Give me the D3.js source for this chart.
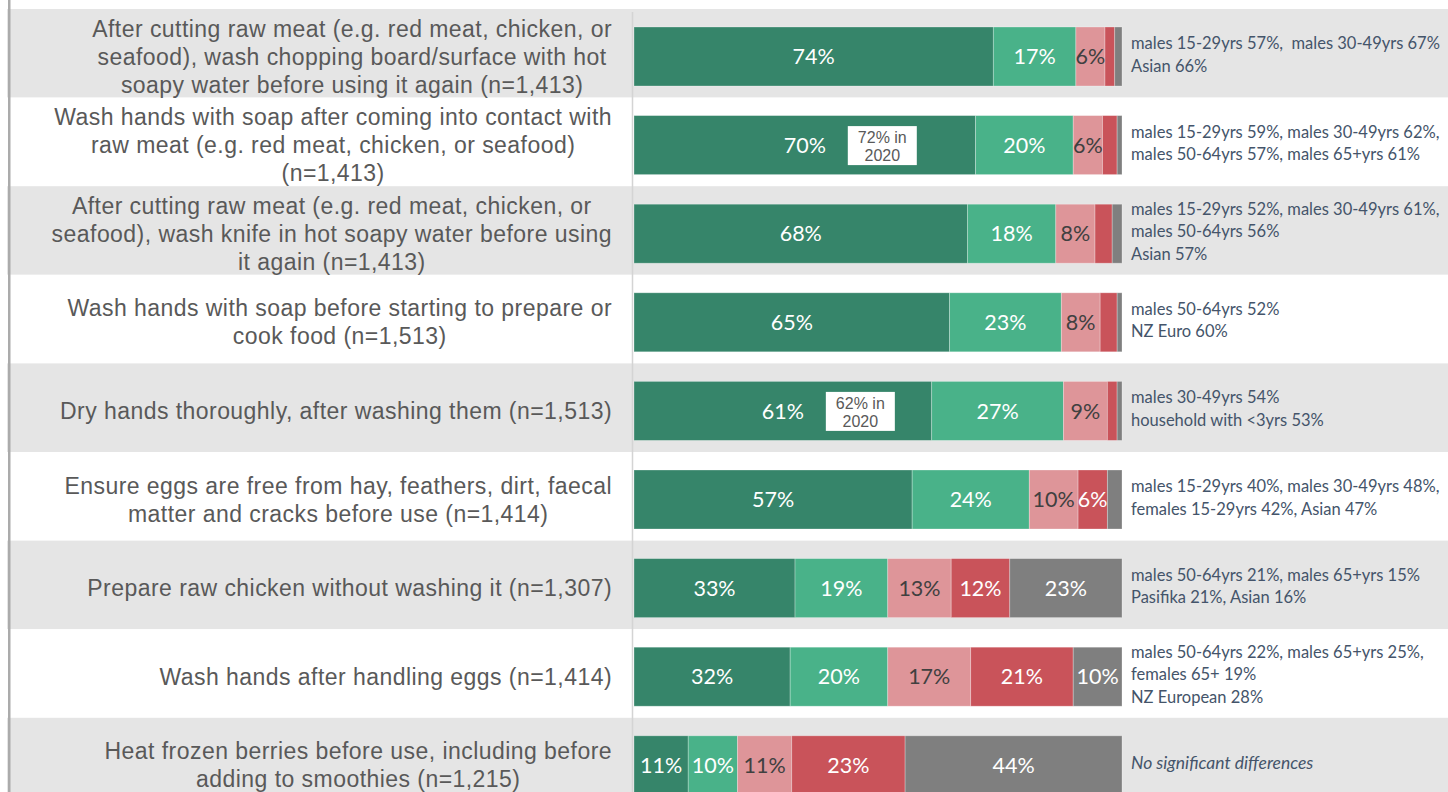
<!DOCTYPE html>
<html>
<head>
<meta charset="utf-8">
<script src="https://cdn.jsdelivr.net/npm/d3@7"></script>
<style>
  html, body { margin: 0; padding: 0; background: #ffffff; }
  svg { display: block; }
  text { white-space: pre; }
</style>
</head>
<body>
<svg id="chart" width="1448" height="792"></svg>
<script>
// Food-handling behaviours, one entry per row (lines as they wrap on the left)
const categories = [
  ["After cutting raw meat (e.g. red meat, chicken, or", "seafood), wash chopping board/surface with hot", "soapy water before using it again (n=1,413)"],
  ["Wash hands with soap after coming into contact with", "raw meat (e.g. red meat, chicken, or seafood)", "(n=1,413)"],
  ["After cutting raw meat (e.g. red meat, chicken, or", "seafood), wash knife in hot soapy water before using", "it again (n=1,413)"],
  ["Wash hands with soap before starting to prepare or", "cook food (n=1,513)"],
  ["Dry hands thoroughly, after washing them (n=1,513)"],
  ["Ensure eggs are free from hay, feathers, dirt, faecal", "matter and cracks before use (n=1,414)"],
  ["Prepare raw chicken without washing it (n=1,307)"],
  ["Wash hands after handling eggs (n=1,414)"],
  ["Heat frozen berries before use, including before", "adding to smoothies (n=1,215)"]
];

// Response shares (%) per row
const always    = [74, 70, 68, 65, 61, 57, 33, 32, 11];
const usually   = [17, 20, 18, 23, 27, 24, 19, 20, 10];
const sometimes = [6, 6, 8, 8, 9, 10, 13, 17, 11];
const rarely    = [2, 3, 3.5, 3.5, 2, 6, 12, 21, 23];
const never     = [1.5, 1, 2, 1, 1, 3, 23, 10, 44];

const seriesKeys = ["always", "usually", "sometimes", "rarely", "never"];
const seriesColors = ["#36856a", "#49b289", "#de9599", "#c9535a", "#7f7f7f"];
const labelColors  = ["#ffffff", "#ffffff", "#404040", "#ffffff", "#ffffff"];

// Earlier-year comparison notes on the first segment
const priorRows  = [1, 4];
const priorTexts = [["72% in", "2020"], ["62% in", "2020"]];

// Subgroup differences listed to the right of each bar
const notes = [
  ["males 15-29yrs 57%,  males 30-49yrs 67%", "Asian 66%"],
  ["males 15-29yrs 59%, males 30-49yrs 62%,", "males 50-64yrs 57%, males 65+yrs 61%"],
  ["males 15-29yrs 52%, males 30-49yrs 61%,", "males 50-64yrs 56%", "Asian 57%"],
  ["males 50-64yrs 52%", "NZ Euro 60%"],
  ["males 30-49yrs 54%", "household with <3yrs 53%"],
  ["males 15-29yrs 40%, males 30-49yrs 48%,", "females 15-29yrs 42%, Asian 47%"],
  ["males 50-64yrs 21%, males 65+yrs 15%", "Pasifika 21%, Asian 16%"],
  ["males 50-64yrs 22%, males 65+yrs 25%,", "females 65+ 19%", "NZ European 28%"],
  ["No significant differences"]
];
const noteItalic = [false, false, false, false, false, false, false, false, true];

const rows = categories.map((c, i) => ({
  idx: i, always: always[i], usually: usually[i], sometimes: sometimes[i],
  rarely: rarely[i], never: never[i]
}));

const svg = d3.select("#chart");
const W = 1448, H = 792;

const rowScale = d3.scaleBand()
  .domain(d3.range(categories.length))
  .range([9, 9 + 88.6 * categories.length])
  .paddingInner(0).paddingOuter(0);

const barTop = 18, barH = 59;
const x = d3.scaleLinear().domain([0, 1]).range([634, 1122]);

const stack = d3.stack().keys(seriesKeys).offset(d3.stackOffsetExpand);
const stacked = stack(rows);

// alternating row bands
svg.append("g").selectAll("rect")
  .data(rows)
  .join("rect")
  .attr("x", 7)
  .attr("width", W - 7)
  .attr("y", d => rowScale(d.idx))
  .attr("height", rowScale.bandwidth())
  .attr("fill", d => d.idx % 2 === 0 ? "#e5e5e5" : "#ffffff");

// left frame rule
svg.append("rect").attr("x", 8).attr("y", 0).attr("width", 2.5).attr("height", H).attr("fill", "#ababab");

// category axis line
svg.append("line")
  .attr("x1", x(0) - 1.5).attr("x2", x(0) - 1.5)
  .attr("y1", 12).attr("y2", H)
  .attr("stroke", "#d4d4d4").attr("stroke-width", 1.5);

// stacked segments
const layers = svg.append("g").selectAll("g")
  .data(stacked)
  .join("g")
  .attr("fill", (d, i) => seriesColors[i]);

layers.selectAll("rect")
  .data(d => d)
  .join("rect")
  .attr("x", d => x(d[0]))
  .attr("width", d => x(d[1]) - x(d[0]))
  .attr("y", d => rowScale(d.data.idx) + barTop)
  .attr("height", barH)
  .attr("stroke", "rgba(255,255,255,0.35)")
  .attr("stroke-width", 0.8);

// segment value labels
svg.append("g").selectAll("g")
  .data(stacked)
  .join("g")
  .attr("fill", (d, i) => labelColors[i])
  .selectAll("text")
  .data(d => d.map(p => ({ p, key: d.key })))
  .join("text")
  .filter(d => d.p.data[d.key] >= 5)
  .attr("x", d => (x(d.p[0]) + x(d.p[1])) / 2)
  .attr("y", d => rowScale(d.p.data.idx) + barTop + barH / 2)
  .attr("dy", "0.36em")
  .attr("text-anchor", "middle")
  .style("font-family", "Lato, 'Open Sans', sans-serif")
  .style("font-size", "21.5px")
  .text(d => d3.format("d")(d.p.data[d.key]) + "%");

// prior-year boxes
const firstLayer = stacked[0];
const priorG = svg.append("g").selectAll("g")
  .data(priorRows.map((r, i) => ({ r, lines: priorTexts[i], seg: firstLayer[r] })))
  .join("g")
  .attr("transform", d => {
    const cx = (x(d.seg[0]) + x(d.seg[1])) / 2 + 43;
    const cy = rowScale(d.r) + barTop + barH / 2;
    return `translate(${cx},${cy})`;
  });
priorG.append("rect")
  .attr("x", 0).attr("y", -19).attr("width", 69).attr("height", 39)
  .attr("fill", "#ffffff");
priorG.selectAll("text")
  .data(d => d.lines)
  .join("text")
  .attr("x", 34.5)
  .attr("y", (d, i) => (i - 0.5) * 18 + 1)
  .attr("dy", "0.36em")
  .attr("text-anchor", "middle")
  .attr("fill", "#595959")
  .style("font-family", "'Liberation Sans', Arial, sans-serif")
  .style("font-size", "16px")
  .text(d => d);

// category labels: block right-aligned to the axis, lines centred within it
const labelRight = 612, lineH = 28;
const labG = svg.append("g")
  .style("font-family", "'Liberation Sans', Arial, sans-serif")
  .style("font-size", "23px")
  .style("letter-spacing", "0.45px")
  .attr("fill", "#595959");

categories.forEach((lines, i) => {
  const cy = rowScale(i) + barTop + barH / 2;
  const g = labG.append("g");
  const texts = g.selectAll("text")
    .data(lines)
    .join("text")
    .attr("y", (d, j) => cy + (j - (lines.length - 1) / 2) * lineH)
    .attr("dy", "0.35em")
    .attr("text-anchor", "middle")
    .text(d => d);
  let maxW = 0;
  texts.each(function () { maxW = Math.max(maxW, this.getBBox().width); });
  texts.attr("x", labelRight - maxW / 2);
});

// subgroup notes
const noteG = svg.append("g")
  .style("font-family", "Lato, 'Open Sans', sans-serif")
  .style("font-size", "16.5px")
  .attr("fill", "#44546a");
notes.forEach((lines, i) => {
  const cy = rowScale(i) + barTop + barH / 2 - 2;
  noteG.append("g").selectAll("text")
    .data(lines)
    .join("text")
    .attr("x", 1131)
    .attr("y", (d, j) => cy + (j - (lines.length - 1) / 2) * 22.5)
    .attr("dy", "0.35em")
    .style("font-style", noteItalic[i] ? "italic" : "normal")
    .style("font-size", noteItalic[i] ? "17.5px" : null)
    .text(d => d);
});
</script>
</body>
</html>
